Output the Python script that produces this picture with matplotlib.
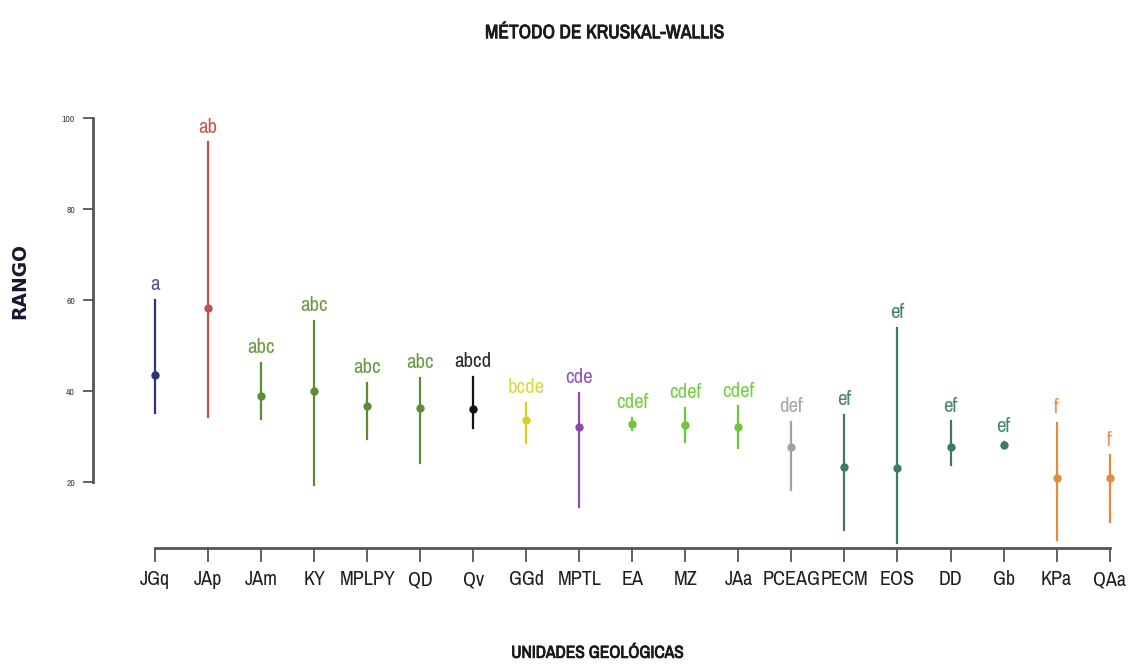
import matplotlib.pyplot as plt
import matplotlib.patheffects as pe
from matplotlib import font_manager

# grupos de Kruskal-Wallis por unidad geológica
unidades = ['JGq', 'JAp', 'JAm', 'KY', 'MPLPY', 'QD', 'Qv', 'GGd', 'MPTL', 'EA',
            'MZ', 'JAa', 'PCEAG', 'PECM', 'EOS', 'DD', 'Gb', 'KPa', 'QAa']
rango_medio = [43.6, 58.3, 38.9, 40.0, 36.7, 36.3, 36.1, 33.7, 32.1, 32.8,
               32.6, 32.1, 27.7, 23.3, 23.1, 27.7, 28.1, 20.9, 20.9]
rango_sup = [60.0, 94.7, 46.2, 55.5, 41.8, 42.9, 43.1, 37.4, 39.6, 34.1,
             36.3, 36.7, 33.2, 34.8, 53.9, 33.4, 28.8, 33.0, 25.9]
rango_inf = [35.2, 34.3, 33.9, 19.3, 29.5, 24.2, 31.9, 28.6, 14.5, 31.5,
             28.8, 27.5, 18.2, 9.4, 6.6, 23.7, 27.5, 7.2, 11.2]
grupos = ['a', 'ab', 'abc', 'abc', 'abc', 'abc', 'abcd', 'bcde', 'cde', 'cdef',
          'cdef', 'cdef', 'def', 'ef', 'ef', 'ef', 'ef', 'f', 'f']
colores = ['#2e3478', '#c4504e', '#5e8c36', '#5e8c36', '#5e8c36', '#5e8c36',
           '#111111', '#d6d31e', '#8c48b4', '#6cc83a', '#6cc83a', '#6cc83a',
           '#a2a2a2', '#3e7a68', '#3e7a68', '#3e7a68', '#3e7a68', '#e48c3e', '#e48c3e']
colores_txt = ['#525894', '#c85a58', '#6e9a48', '#6e9a48', '#6e9a48', '#6e9a48',
               '#2a2a2a', '#e0d840', '#9454c0', '#78d048', '#78d048', '#78d048',
               '#a8a8a8', '#4a8474', '#4a8474', '#4a8474', '#4a8474', '#e8944a', '#e8944a']

# buscar una fuente estrecha entre las instaladas
fuentes = font_manager.fontManager.ttflist
estrecha = None
for f in fuentes:
    if 'Narrow' in f.name or 'Condensed' in f.name:
        estrecha = f.name
        break
if estrecha is None:
    estrecha = 'Liberation Sans'
plt.rcParams['font.family'] = [estrecha, 'DejaVu Sans']
plt.rcParams['font.stretch'] = 'condensed'

negrita = [pe.withStroke(linewidth=0.6, foreground='#1a1a1a')]

fig = plt.figure(figsize=(11.43, 6.68), dpi=100)
ax = fig.add_axes([0.0814, 0.1796, 0.907, 0.6437])

for i, u in enumerate(unidades):
    ax.plot([i, i], [rango_inf[i], rango_sup[i]], color=colores[i], linewidth=1.6, zorder=2)
    ax.plot(i, rango_medio[i], 'o', color=colores[i], markersize=5, zorder=3)
    ax.annotate(grupos[i], (i, rango_sup[i]), xytext=(0, 4), textcoords='offset points',
                ha='center', va='bottom', fontsize=15, color=colores_txt[i],
                annotation_clip=False)

ax.set_xlim(-1.17, 18.38)
ax.set_ylim(5.5, 100)

for lado in ['top', 'right']:
    ax.spines[lado].set_visible(False)
ax.spines['left'].set_bounds(20, 100)
ax.spines['bottom'].set_bounds(0, 18)
for lado in ['left', 'bottom']:
    ax.spines[lado].set_color('#555555')
    ax.spines[lado].set_linewidth(2)

ax.set_yticks([20, 40, 60, 80, 100])
ax.tick_params(axis='y', length=7, width=1.3, color='#555555', labelsize=7,
               labelcolor='#444444', pad=6)
ax.set_xticks(range(len(unidades)))
ax.set_xticklabels(unidades)
ax.tick_params(axis='x', length=10, width=1.3, color='#555555', labelsize=14.5,
               labelcolor='#1e1e1e', pad=6)

fig.text(0.529, 0.951, 'MÉTODO DE KRUSKAL-WALLIS', ha='center', va='center',
         fontsize=14, color='#1a1a1a', path_effects=negrita)
fig.text(0.523, 0.022, 'UNIDADES GEOLÓGICAS', ha='center', va='center',
         fontsize=12.5, color='#1a1a1a', path_effects=negrita)
fig.text(0.017, 0.58, 'RANGO', ha='center', va='center', rotation=90,
         fontsize=13.5, fontweight='bold', color='#1a1530',
         family='DejaVu Sans', fontstretch='normal')

fig.savefig('out.png', dpi=100, facecolor='white')
